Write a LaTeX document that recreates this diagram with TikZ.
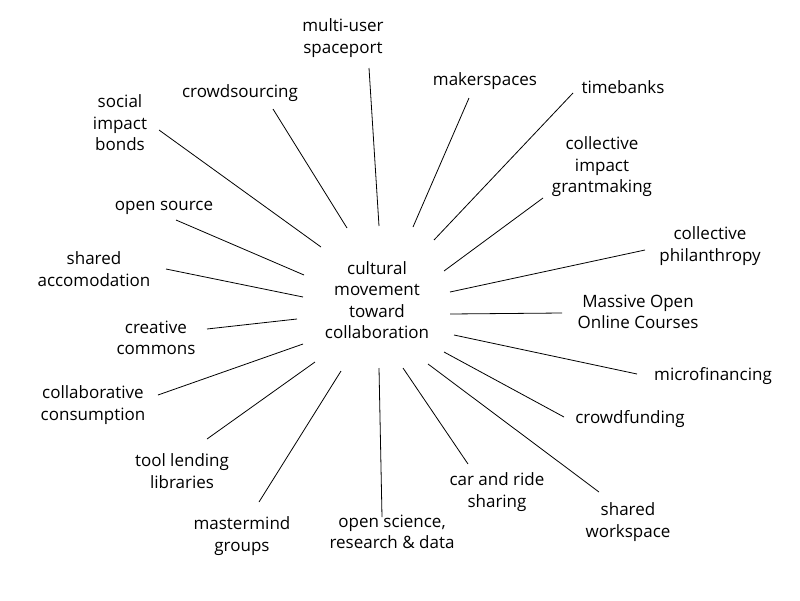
\documentclass[tikz,border=0pt]{standalone}
\usepackage{fontspec}
\setmainfont{Open Sans}
\begin{document}
\begin{tikzpicture}[x=1pt,y=-1pt,
  lbl/.style={align=center,inner sep=0pt,font=\fontsize{17}{21.5}\selectfont},
  ray/.style={draw=black,line width=0.8pt}]
\useasboundingbox[fill=white] (0,0) rectangle (800,600);
\node[lbl] (c) at (377,300) {cultural\\movement\\toward\\collaboration};
\node[lbl] (mus) at (343,38) {multi-user\\spaceport};
\node[lbl] (cs) at (240,93) {crowdsourcing};
\node[lbl] (sib) at (120,123) {social\\impact\\bonds};
\node[lbl] (os) at (164,208) {open source};
\node[lbl] (sa) at (94,269) {shared\\accomodation};
\node[lbl] (cc) at (156,338) {creative\\commons};
\node[lbl] (cons) at (93,405) {collaborative\\consumption};
\node[lbl] (tll) at (182,471) {tool lending\\libraries};
\node[lbl] (mg) at (242,536) {mastermind\\groups};
\node[lbl] (osr) at (392,532) {open science,\\research \& data};
\node[lbl] (car) at (497,492) {car and ride\\sharing};
\node[lbl] (sw) at (628,522) {shared\\workspace};
\node[lbl] (cf) at (630,419) {crowdfunding};
\node[lbl] (mf) at (713,376) {microfinancing};
\node[lbl] (mooc) at (638,312) {Massive Open\\Online Courses};
\node[lbl] (cp) at (710,246) {collective\\philanthropy};
\node[lbl] (cig) at (602,167) {collective\\impact\\grantmaking};
\node[lbl] (tb) at (623,87) {timebanks};
\node[lbl] (mk) at (485,81) {makerspaces};
% connector ends
\coordinate (a1) at (369,68);  \coordinate (b1) at (379,226);
\coordinate (a2) at (273,109); \coordinate (b2) at (347,228);
\coordinate (a3) at (159,130); \coordinate (b3) at (321,247);
\coordinate (a4) at (176,220); \coordinate (b4) at (304,275);
\coordinate (a5) at (166,269); \coordinate (b5) at (303,297);
\coordinate (a6) at (207,329); \coordinate (b6) at (297,319);
\coordinate (a7) at (158,395); \coordinate (b7) at (303,344);
\coordinate (a8) at (207,439); \coordinate (b8) at (315,362);
\coordinate (a9) at (259,502); \coordinate (b9) at (341,371);
\coordinate (a10) at (382,517); \coordinate (b10) at (379,368);
\coordinate (a11) at (468,464); \coordinate (b11) at (403,368);
\coordinate (a12) at (599,492); \coordinate (b12) at (428,364);
\coordinate (a13) at (564,417); \coordinate (b13) at (444,352);
\coordinate (a14) at (637,374); \coordinate (b14) at (454,335);
\coordinate (a15) at (562,313); \coordinate (b15) at (450,314);
\coordinate (a16) at (645,250); \coordinate (b16) at (450,292);
\coordinate (a17) at (543,198); \coordinate (b17) at (444,271);
\coordinate (a18) at (573,93);  \coordinate (b18) at (434,240);
\coordinate (a19) at (469,98);  \coordinate (b19) at (413,227);
\foreach \i in {1,...,19} {\draw[ray] (a\i) -- (b\i);}
\end{tikzpicture}
\end{document}
